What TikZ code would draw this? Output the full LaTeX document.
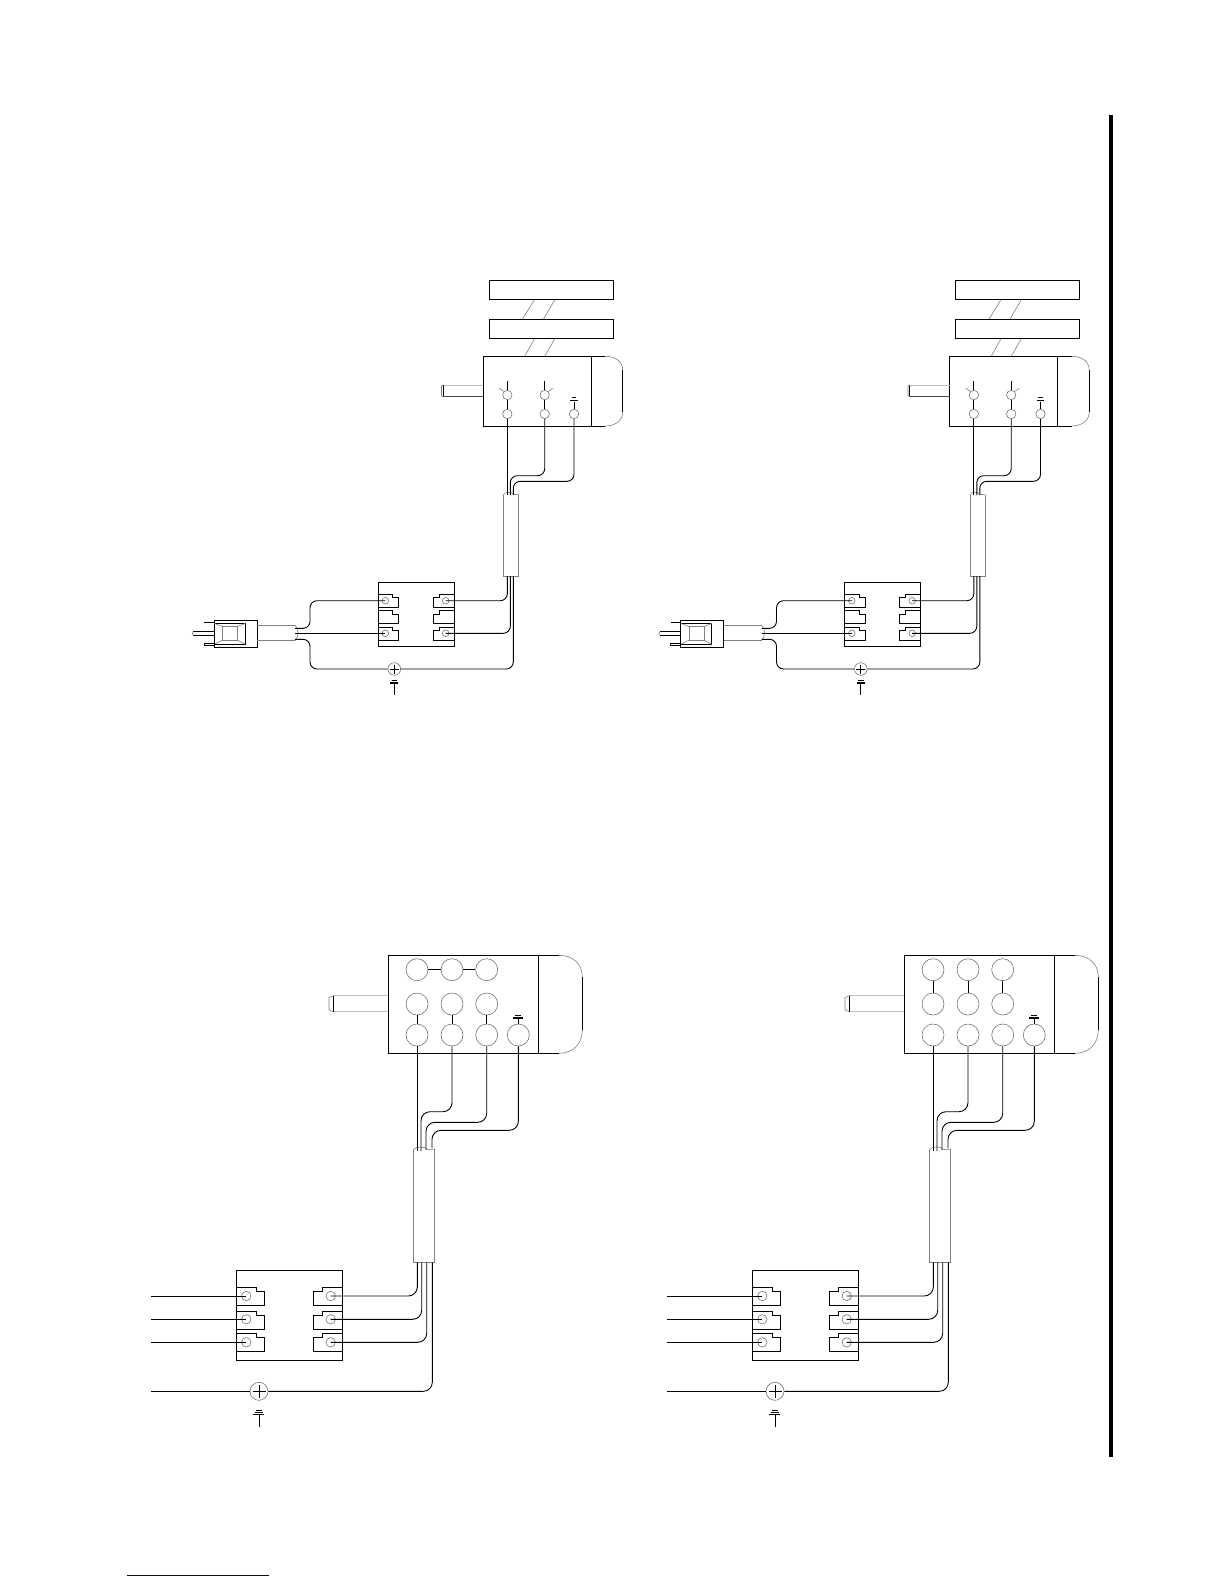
\documentclass[tikz,border=0pt]{standalone}
\tikzset{
    wire/.style={line width=.9pt,rounded corners=7pt},
    box/.style={line width=.95pt},
    thin gray/.style={line width=.6pt,black!50},
    term/.style={circle,draw,line width=.6pt,black!55,inner sep=0pt,minimum size=#1},
    term/.default=9.4pt
}
\begin{document}
\begin{tikzpicture}[x=1pt,y=-1pt]
\useasboundingbox (0,0) rectangle (1224,1584);
\draw[line width=4pt] (1111,115)--(1111,1457);
\draw[line width=1pt,blue!50!black] (126.7,1575)--(269,1575);

% upper two units
\foreach \dx/\u in {0/a,466.5/b}
{
\begin{scope}[shift={(\dx,0)}]
\draw[box] (489.3,280.3) rectangle (613.3,299.3);
\draw[box] (489.3,319.3) rectangle (613.3,338.3);
\draw[thin gray] (534.3,300)--(522.3,319.3) (554.7,300)--(543.3,319.3);
\draw[thin gray] (534.3,339)--(524.7,356.3) (554.7,339)--(544.7,356.3);
\draw[box] (483.3,356.3) rectangle (591.3,426);
\draw[box] (591.3,356.3)--(605,356.3) (591.3,426)--(605,426) (622.7,370)--(622.7,412);
\draw[thin gray] (605,356.3) .. controls (616,356.3) and (622.7,362) .. (622.7,370);
\draw[thin gray] (605,426) .. controls (616,426) and (622.7,420) .. (622.7,412);
\draw[thin gray,black!25] (443.3,385)--(483.3,385);
\draw[thin gray,black!70] (443.3,396.7)--(483.3,396.7);
\draw[box] (443.3,385)--(443.3,396.7);
\draw[thin gray] (443.3,385)--(441.5,386)--(441.5,395.7)--(443.3,396.7);
% terminals of the motor
\node[term] (\u m1) at (507.3,395){};
\node[term] (\u m2) at (507.3,414){};
\node[term] (\u m3) at (544.7,395){};
\node[term] (\u m4) at (544.7,414){};
\node[term] (\u m5) at (574,414){};
\draw[box] (\u m1)--(\u m2) (\u m3)--(\u m4);
\draw[box] (\u m1.north)--(507.3,381) (\u m3.north)--(544.7,381);
\draw[thin gray] (\u m1.north west)--(499.3,388.3) (\u m3.north east)--(552.7,388.3);
\draw[box] (\u m5.north)--(574,401.7);
\draw[line width=1.3pt] (570.3,400.7)--(577.7,400.7);
\draw[box] (571.7,397.7)--(576.3,397.7);
% cable
\draw[thin gray] (503.3,495)--(503.3,576)--(518.7,576)--(518.7,495);
\draw[thin gray] (503.3,495) .. controls (505,491.5) and (511,491.5) .. (513,494) .. controls (515,495) and (517,494.5) .. (518.7,494);
\coordinate (\u c1) at (507.3,495);
\coordinate (\u c2) at (510.3,495);
\coordinate (\u c3) at (513.3,495);
\coordinate (\u d1) at (507.3,576);
\coordinate (\u d2) at (510.3,576);
\coordinate (\u d3) at (513.3,576);
\draw[wire] (\u m2.south)--(\u c1);
\draw[wire] (\u m4.south)--(\u m4 |- 0,475.7)--(\u c2 |- 0,475.7)--(\u c2);
\draw[wire] (\u m5.south)--(\u m5 |- 0,481.3)--(\u c3 |- 0,481.3)--(\u c3);
% terminal block
\draw[box] (378.3,582.3) rectangle (454.3,646.3);
\foreach \y in {594.3,610.7,627.3}
{
    \draw[box] (378.3,\y)--(392.7,\y)--(392.7,\y+3.4)--(398.7,\y+3.4)--(398.7,\y+13)--(378.3,\y+13);
    \draw[box] (454.3,\y)--(439.3,\y)--(439.3,\y+3.4)--(433.3,\y+3.4)--(433.3,\y+13)--(454.3,\y+13);
}
\node[term=6.6pt] (\u l1) at (385.3,600.7){};
\node[term=6.6pt] (\u l2) at (385.3,633.3){};
\node[term=6.6pt] (\u r1) at (445.7,600.7){};
\node[term=6.6pt] (\u r2) at (445.7,633.3){};
\node[term=12.6pt] (\u g) at (394.3,669){};
\draw[box] (389.8,669)--(398.8,669) (394.3,664.5)--(394.3,673.5);
\draw[box] (394.3,682.5)--(394.3,695);
\draw[line width=1.3pt] (390.3,683)--(398.3,683);
\draw[box] (391.5,680)--(397,680);
\draw[wire] (\u d1)--(\u d1 |- \u r1)--(\u r1.center);
\draw[wire] (\u d2)--(\u d2 |- \u r2)--(\u r2.center);
\draw[wire] (\u d3)--(\u d3 |- \u g)--(\u g.east);
% plug and cord
\draw[box] (214.3,620.3) rectangle (257.3,647.3);
\draw[box] (214.3,623.3) rectangle (245.3,644.3);
\draw[thin gray] (222.7,626.7) rectangle (237.3,640);
\draw[thin gray] (214.3,623.3)--(222.7,626.7) (245.3,623.3)--(237.3,626.7) (214.3,644.3)--(222.7,640) (245.3,644.3)--(237.3,640);
\draw[line width=1.2pt] (204.3,622.3)--(214.3,622.3);
\draw[box] (193.3,631.7)--(214.3,631.7) (193.3,635.3)--(214.3,635.3);
\draw[box] (204.3,643.3) rectangle (214.3,645.7);
\draw[thin gray] (193.3,631.7) .. controls (192,632.5) and (192,634.5) .. (193.3,635.3);
\draw[thin gray] (257.3,625)--(295,625) (257.3,640.7)--(295,640.7);
\draw[thin gray] (295,625) .. controls (299,629) and (299,636) .. (295,640.7);
\coordinate (\u p1) at (295,628.3);
\coordinate (\u p2) at (295,633.3);
\coordinate (\u p3) at (295,639.3);
\draw[wire] (\u p1)--(310,628.3)--(310,600.7)--(\u l1.center);
\draw[box] (\u p2)--(\u l2.center);
\draw[wire] (\u p3)--(310,639.3)--(310,669)--(\u g.west);
\end{scope}
}

% lower two units
\foreach \dx/\u in {0/c,516/d}
{
\begin{scope}[shift={(\dx,0)}]
\draw[box] (388.3,955.3) rectangle (538.3,1053.3);
\draw[box] (538.3,955.3)--(559,955.3) (538.3,1053.3)--(559,1053.3) (582.3,976.7)--(582.3,1030);
\draw[thin gray] (559,955.3) .. controls (573,955.3) and (582.3,964) .. (582.3,976.7);
\draw[thin gray] (559,1053.3) .. controls (573,1053.3) and (582.3,1044) .. (582.3,1030);
\draw[thin gray,black!25] (333.3,995.7)--(388.3,995.7) (333.3,1011.7)--(388.3,1011.7);
\draw[box] (333.3,995.7)--(333.3,1011.7);
\draw[thin gray] (333.3,995.7)--(329,997.5)--(329,1010)--(333.3,1011.7);
% terminals of the motor
\foreach \n/\x in {1/417,2/452,3/486.7}
{
    \node[term=22pt] (\u a\n) at (\x,969.7){};
    \node[term=22pt] (\u b\n) at (\x,1004){};
    \node[term=22pt] (\u e\n) at (\x,1035){};
}
\node[term=22pt] (\u e4) at (518.3,1035){};
\draw[box] (\u e4.north)--(518.3,1018.3);
\draw[line width=1.3pt] (513.3,1018)--(522.7,1018);
\draw[box] (515,1015.3)--(521,1015.3);
% cable
\draw[thin gray] (413.3,1150)--(413.3,1262.3)--(434.7,1262.3)--(434.7,1149);
\draw[thin gray] (413.3,1150) .. controls (416,1146) and (424,1146) .. (428,1149.5) .. controls (430,1150) and (432,1149.5) .. (434.7,1149);
\coordinate (\u c1) at (417,1151);
\coordinate (\u c2) at (421,1151);
\coordinate (\u c3) at (426,1150);
\coordinate (\u c4) at (432,1148);
\coordinate (\u d1) at (417.3,1262.3);
\coordinate (\u d2) at (421.7,1262.3);
\coordinate (\u d3) at (426.7,1262.3);
\coordinate (\u d4) at (432.3,1262.3);
\draw[wire] (\u e1.south)--(\u c1);
\draw[wire,rounded corners=9pt] (\u e2.south)--(\u e2 |- 0,1111.7)--(\u c2 |- 0,1111.7)--(\u c2);
\draw[wire,rounded corners=9pt] (\u e3.south)--(\u e3 |- 0,1122.3)--(\u c3 |- 0,1122.3)--(\u c3);
\draw[wire,rounded corners=9pt] (\u e4.south)--(\u e4 |- 0,1130.3)--(\u c4 |- 0,1130.3)--(\u c4);
% terminal block
\draw[box] (236.3,1270.3) rectangle (342.3,1360.3);
\foreach \y in {1287.3,1311.3,1333.3}
{
    \draw[box] (236.3,\y)--(256.3,\y)--(256.3,\y+4.5)--(264.3,\y+4.5)--(264.3,\y+18)--(236.3,\y+18);
    \draw[box] (342.3,\y)--(322.7,\y)--(322.7,\y+4.5)--(313.3,\y+4.5)--(313.3,\y+18)--(342.3,\y+18);
}
\foreach \n/\y in {1/1296,2/1319.3,3/1342.3}
{
    \node[term] (\u l\n) at (246.3,\y){};
    \node[term] (\u r\n) at (330.7,\y){};
    \coordinate (\u i\n) at (151,\y);
    \draw[box] (\u i\n)--(\u l\n.center);
    \draw[wire,rounded corners=9pt] (\u d\n)--(\u d\n |- \u r\n)--(\u r\n.center);
}
\node[term=18pt] (\u g) at (259,1391.3){};
\coordinate (\u i4) at (151,1391.3);
\draw[box] (252.5,1391.3)--(265.5,1391.3) (259,1385)--(259,1397.5);
\draw[box] (\u i4)--(\u g.west);
\draw[wire,rounded corners=9pt] (\u d4)--(\u d4 |- \u g)--(\u g.east);
\draw[box] (259,1414)--(259,1426.7);
\draw[line width=1.1pt] (253.3,1414.3)--(264,1414.3);
\draw[box] (254.5,1412)--(262.7,1412) (255.7,1410)--(261.7,1410);
\end{scope}
}
% links between the terminals
\draw[box] (ca1)--(ca2) (ca2)--(ca3);
\foreach \n in {1,2,3}
{
    \draw[box] (cb\n)--(ce\n);
    \draw[box] (da\n)--(db\n);
}
\end{tikzpicture}
\end{document}
